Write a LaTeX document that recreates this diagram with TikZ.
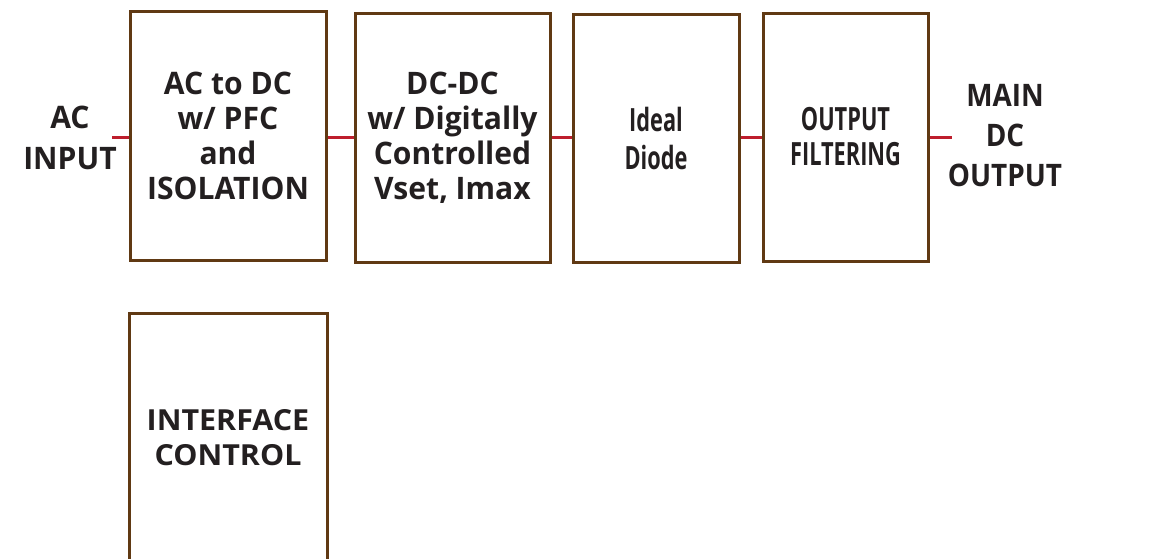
\documentclass[tikz,border=0pt]{standalone}
\usepackage{fontspec}
\setmainfont{Open Sans}
\newfontfamily\mainfont{Open Sans}[FakeStretch=0.97]
\newfontfamily\narrowfont{Open Sans}[FakeStretch=0.9]
\newfontfamily\widefont{Open Sans}[FakeStretch=1.05]
\newfontfamily\condfont{Open Sans}[FakeStretch=0.68]
\definecolor{boxbrown}{HTML}{603913}
\definecolor{linered}{HTML}{BE1E2D}
\definecolor{txt}{HTML}{231F20}
\begin{document}
\begin{tikzpicture}[x=1pt,y=-1pt,
  blk/.style={draw=boxbrown,line width=3pt,inner sep=0pt,align=center,text=txt,
    font=\mainfont\bfseries\fontsize{31}{35}\selectfont},
  lbl/.style={inner sep=0pt,align=center,text=txt,font=\mainfont\bfseries\fontsize{31}{41}\selectfont},
  wire/.style={draw=linered,line width=3pt}]
\useasboundingbox (0,0) rectangle (1161,558);
\node[blk,minimum width=196pt,minimum height=249pt] (b1) at (228,136) {AC to DC\\w/ PFC\\and\\ISOLATION};
\node[blk,minimum width=195pt,minimum height=249pt] (b2) at (452.5,137.5) {DC-DC\\w/ Digitally\\Controlled\\Vset, Imax};
\node[blk,minimum width=166pt,minimum height=248pt,font=\condfont\bfseries\fontsize{32}{38}\selectfont] (b3) at (656,138) {Ideal\\Diode};
\node[blk,minimum width=165pt,minimum height=248pt,font=\condfont\bfseries\fontsize{32}{35}\selectfont] (b4) at (845.5,137) {OUTPUT\\FILTERING};
\node[blk,minimum width=198pt,minimum height=249pt,font=\widefont\bfseries\fontsize{29}{35}\selectfont] (b5) at (228,437.5) {INTERFACE\\CONTROL};
\node[lbl] (in) at (70,138) {AC\\INPUT};
\node[lbl,font=\narrowfont\bfseries\fontsize{31}{40}\selectfont] (out) at (1005,136) {MAIN\\DC\\OUTPUT};
\coordinate (inend) at (112,137);
\coordinate (outend) at (952,137);
\draw[wire] (inend) -- (b1.west |- inend);
\draw[wire] (b1.east |- inend) -- (b2.west |- inend);
\draw[wire] (b2.east |- inend) -- (b3.west |- inend);
\draw[wire] (b3.east |- inend) -- (b4.west |- inend);
\draw[wire] (b4.east |- inend) -- (outend);
\end{tikzpicture}
\end{document}
